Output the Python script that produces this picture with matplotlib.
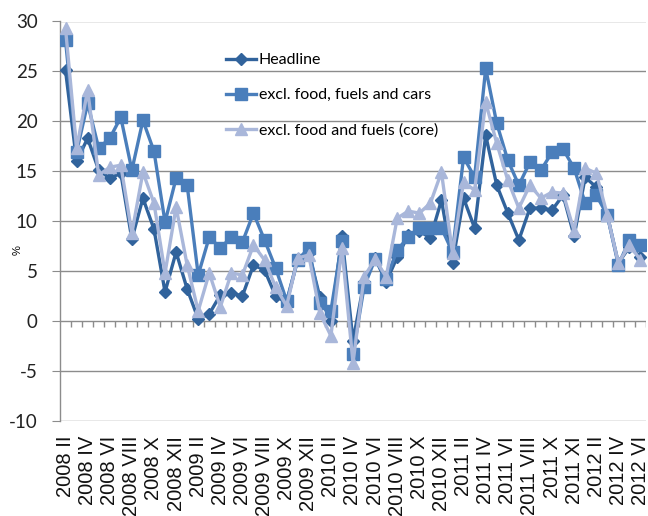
import numpy as np
import matplotlib
matplotlib.use("Agg")
import matplotlib.pyplot as plt

# Month-on-month annualised inflation, 2008 II - 2012 VI
tick_labels = ["2008 II", "2008 IV", "2008 VI", "2008 VIII", "2008 X", "2008 XII",
               "2009 II", "2009 IV", "2009 VI", "2009 VIII", "2009 X", "2009 XII",
               "2010 II", "2010 IV", "2010 VI", "2010 VIII", "2010 X", "2010 XII",
               "2011 II", "2011 IV", "2011 VI", "2011 VIII", "2011 X", "2011 XI",
               "2012 II", "2012 IV", "2012 VI"]

headline = [25.1, 16.0, 18.3, 15.1, 14.3, 14.8, 8.2, 12.3, 9.2, 2.9, 6.9, 3.2,
            0.2, 0.7, 2.6, 2.8, 2.5, 5.6, 5.1, 2.5, 1.8, 6.2, 6.8, 2.4,
            0.0, 8.5, -2.0, 3.9, 6.3, 3.9, 6.4, 8.6, 9.0, 8.3, 12.1, 5.8,
            12.3, 9.3, 18.6, 13.6, 10.8, 8.1, 11.3, 11.3, 11.1, 12.6, 8.5, 14.4,
            13.4, 10.6, 5.8, 7.4, 6.4]

excl_food_fuels_cars = [28.1, 16.9, 21.8, 17.3, 18.3, 20.4, 15.1, 20.1, 17.0, 9.9, 14.3, 13.6,
                        4.6, 8.4, 7.3, 8.4, 7.9, 10.8, 8.1, 5.3, 2.0, 6.1, 7.3, 1.8,
                        1.0, 8.0, -3.3, 3.4, 6.2, 4.2, 7.1, 8.4, 9.3, 9.3, 9.3, 6.9,
                        16.4, 14.4, 25.3, 19.8, 16.1, 13.6, 15.9, 15.1, 16.9, 17.2, 15.3, 11.8,
                        12.6, 10.6, 5.6, 8.1, 7.6]

core = [29.3, 17.3, 23.1, 14.6, 15.4, 15.6, 8.8, 14.9, 11.8, 4.8, 11.4, 5.6,
        1.0, 4.8, 1.4, 4.8, 4.6, 7.6, 6.1, 3.4, 1.5, 6.3, 6.6, 0.8,
        -1.5, 7.3, -4.2, 4.4, 6.2, 4.4, 10.3, 11.0, 10.8, 11.8, 14.9, 6.8,
        13.9, 13.1, 21.9, 17.8, 14.1, 11.3, 13.6, 12.3, 12.9, 12.8, 9.0, 15.3,
        14.8, 10.6, 5.8, 7.6, 6.1]

n = len(headline)
x = np.arange(n)

fig = plt.figure(figsize=(6.48, 5.16), dpi=100)
ax = fig.add_axes([60 / 648, 1 - 420.7 / 516, 586 / 648, (420.7 - 21.5) / 516])

grid_col = "#8c8c8c"

# horizontal gridlines
for v in np.arange(-10, 31, 5):
    ax.axhline(v, color=grid_col, lw=1.0, zorder=1)

ax.plot(x, headline, color="#31639c", lw=2.4, marker="D", ms=6.5,
        label="Headline", zorder=3)
ax.plot(x, excl_food_fuels_cars, color="#4a7ebb", lw=2.4, marker="s", ms=8,
        label="excl. food, fuels and cars", zorder=4)
ax.plot(x, core, color="#a9b7da", lw=2.4, marker="^", ms=8.5,
        label="excl. food and fuels (core)", zorder=5)

# category tick marks hanging from the zero line
ax.vlines(np.arange(n) + 0.5, -0.65, 0, color=grid_col, lw=1.0, zorder=1)

ax.set_xlim(-0.5, n - 0.5)
ax.set_ylim(-10, 30)
ax.set_yticks(np.arange(-10, 31, 5))
ax.set_yticklabels([str(v) for v in range(-10, 31, 5)],
                   fontfamily="Lato", fontsize=13.5, color="#222222")
ax.tick_params(axis="y", length=6, color=grid_col, pad=10)

ax.set_xticks(x[::2])
ax.set_xticklabels(tick_labels, rotation=90, fontfamily="Liberation Sans",
                   fontsize=14.5, color="#111111")
ax.tick_params(axis="x", length=0, pad=11)

for s in ["top", "right", "bottom"]:
    ax.spines[s].set_visible(False)
ax.spines["left"].set_color(grid_col)
ax.spines["left"].set_linewidth(1.0)

fig.text(18 / 648, 1 - 250 / 516, "%", rotation=90, fontsize=8,
         fontfamily="Liberation Sans", ha="center", va="center")

leg = ax.legend(loc="upper left", bbox_to_anchor=(226 / 648, 1 - 53 / 516),
                bbox_transform=fig.transFigure, frameon=False,
                prop={"family": "Lato", "size": 11.5}, handlelength=1.9,
                handletextpad=0.15, labelspacing=1.3, borderpad=0,
                borderaxespad=0)

fig.savefig("out.png", dpi=100)
